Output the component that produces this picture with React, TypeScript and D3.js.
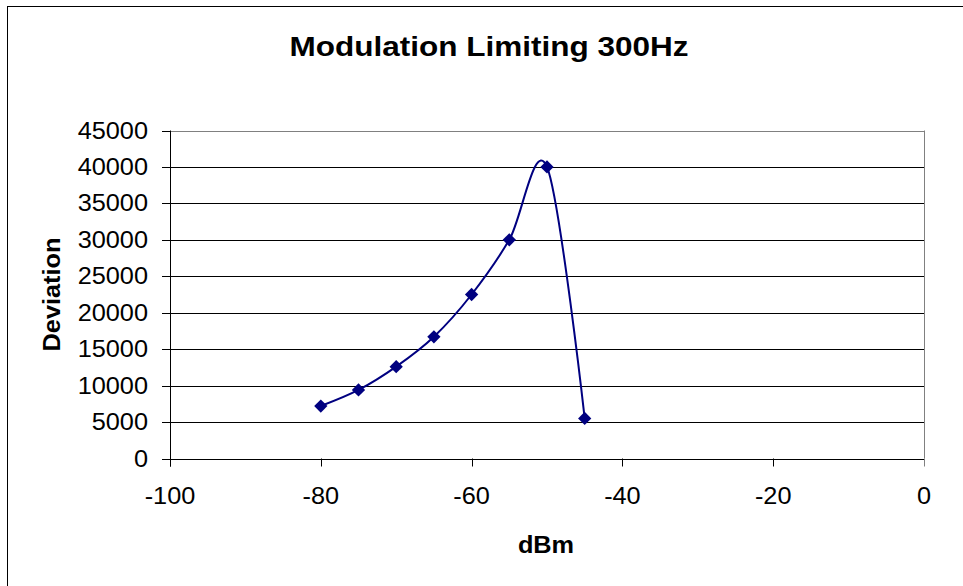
import * as d3 from "d3";

const powerDbm = [-80, -75, -70, -65, -60, -55, -50, -45];
const deviation = [7200, 9400, 12600, 16700, 22500, 30000, 40000, 5500];
const xTicks = [-100, -80, -60, -40, -20, 0];
const yTicks = [0, 5000, 10000, 15000, 20000, 25000, 30000, 35000, 40000, 45000];

const chartTitle = "Modulation Limiting 300Hz";
const xTitle = "dBm";
const yTitle = "Deviation";

const font = "'Liberation Sans', Arial, sans-serif";
const navy = "#000080";
// the source renders its Arial a little wider than it is tall
const stretch = 1.1;

type Point = { x: number; y: number };

export default function App() {
  const width = 963;
  const height = 586;
  const plot = { left: 170, right: 924, top: 130.5, bottom: 458.5 };

  const x = d3.scaleLinear().domain([-100, 0]).range([plot.left, plot.right]);
  const y = d3.scaleLinear().domain([0, 45000]).range([plot.bottom, plot.top]);

  const points: Point[] = powerDbm.map((p, i) => ({ x: p, y: deviation[i] }));

  const line = d3
    .line<Point>()
    .x((d) => x(d.x))
    .y((d) => y(d.y))
    .curve(d3.curveCatmullRom.alpha(0));

  const diamond = d3.symbol(d3.symbolSquare, 88)();

  return (
    <svg
      width={width}
      height={height}
      style={{ position: "absolute", left: 0, top: 0, background: "#ffffff" }}
      fontFamily={font}
    >
      <rect x={7.5} y={6.5} width={width + 10} height={height + 10} fill="#ffffff" stroke="#000000" strokeWidth={1} />

      <text
        x={489}
        y={56}
        textAnchor="middle"
        fontSize={28.5}
        fontWeight="bold"
        fill="#000000"
        textLength={399}
        lengthAdjust="spacingAndGlyphs"
      >
        {chartTitle}
      </text>

      {/* gridlines */}
      {yTicks.map((t) => (
        <line
          key={`g${t}`}
          x1={plot.left}
          x2={plot.right}
          y1={Math.round(y(t)) + 0.5}
          y2={Math.round(y(t)) + 0.5}
          stroke={t === 45000 ? "#808080" : "#000000"}
          strokeWidth={1}
        />
      ))}
      <line x1={plot.right + 0.5} x2={plot.right + 0.5} y1={plot.top} y2={plot.bottom} stroke="#808080" />

      {/* axes */}
      <line x1={plot.left + 0.5} x2={plot.left + 0.5} y1={plot.top} y2={plot.bottom + 8} stroke="#000000" />
      <line x1={plot.left} x2={plot.right} y1={Math.round(y(0)) + 0.5} y2={Math.round(y(0)) + 0.5} stroke="#000000" />

      {yTicks.map((t) => (
        <g key={`y${t}`}>
          <line
            x1={plot.left - 8}
            x2={plot.left}
            y1={Math.round(y(t)) + 0.5}
            y2={Math.round(y(t)) + 0.5}
            stroke="#000000"
          />
          <text
            transform={`translate(148, ${y(t) + 8}) scale(${stretch}, 1)`}
            textAnchor="end"
            fontSize={23}
            fill="#000000"
          >
            {t}
          </text>
        </g>
      ))}

      {xTicks.map((t) => (
        <g key={`x${t}`}>
          <line
            x1={Math.round(x(t)) + 0.5}
            x2={Math.round(x(t)) + 0.5}
            y1={plot.bottom}
            y2={plot.bottom + 8}
            stroke={t === 0 ? "#808080" : "#000000"}
          />
          <text
            transform={`translate(${x(t)}, 504) scale(${stretch}, 1)`}
            textAnchor="middle"
            fontSize={23}
            fill="#000000"
          >
            {t}
          </text>
        </g>
      ))}

      <text
        transform={`translate(546, 553) scale(${stretch}, 1)`}
        textAnchor="middle"
        fontSize={23}
        fontWeight="bold"
        fill="#000000"
      >
        {xTitle}
      </text>
      <text
        transform={`translate(60, ${(plot.top + plot.bottom) / 2}) rotate(-90) scale(${stretch}, 1)`}
        textAnchor="middle"
        fontSize={23}
        fontWeight="bold"
        fill="#000000"
      >
        {yTitle}
      </text>

      {/* series */}
      <path d={line(points) ?? ""} fill="none" stroke={navy} strokeWidth={2} />
      {points.map((d, i) => (
        <path
          key={`m${i}`}
          d={diamond ?? ""}
          transform={`translate(${x(d.x)}, ${y(d.y)}) rotate(45)`}
          fill={navy}
        />
      ))}
    </svg>
  );
}
